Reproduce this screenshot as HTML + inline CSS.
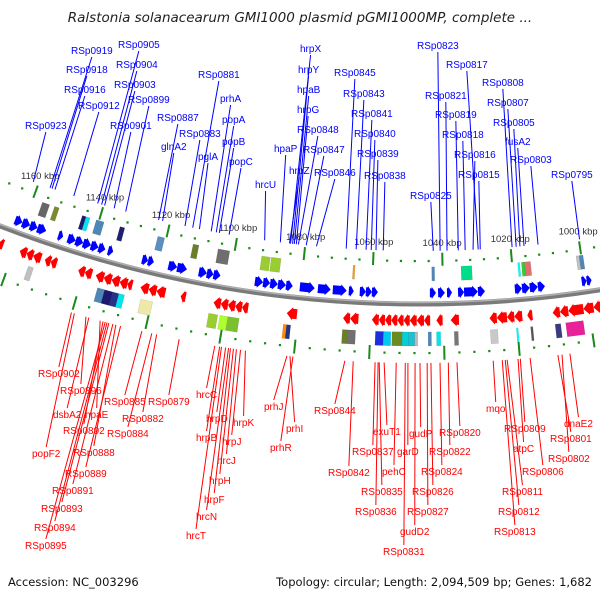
<!DOCTYPE html>
<html><head><meta charset="utf-8">
<style>
html,body{margin:0;padding:0;background:#fff;}
svg{display:block;font-family:"Liberation Sans",sans-serif;}
</style></head>
<body>
<svg id="map" width="600" height="600" viewBox="0 0 600 600" xmlns="http://www.w3.org/2000/svg">
<text x="300" y="22" text-anchor="middle" font-size="13.5" font-style="italic" fill="#222" style="font-family:'DejaVu Sans',sans-serif">Ralstonia solanacearum GMI1000 plasmid pGMI1000MP, complete ...</text>
<g id="ticks"></g>
<g id="backbone"></g>
<g id="genes"></g>
<g id="labels"></g>
<text x="8" y="586" font-size="11.5" fill="#111" style="font-family:'DejaVu Sans',sans-serif">Accession: NC_003296</text>
<text x="592" y="586" text-anchor="end" font-size="11.5" fill="#111" style="font-family:'DejaVu Sans',sans-serif">Topology: circular; Length: 2,094,509 bp; Genes: 1,682</text>
</svg>
<script>
// ---- data (kbp) ----
const kbpTicks = [1160,1140,1120,1100,1080,1060,1040,1020,1000];
const fwdGenes = [[1162.7,1160.5],[1160.5,1158.2],[1158.2,1156.0],[1156.0,1153.4],[1149.8,1148.4],[1147.0,1144.7],[1144.7,1142.5],[1142.5,1140.2],[1140.2,1138.0],[1138.0,1136.0],[1135.2,1133.7],[1125.3,1123.6],[1123.6,1121.9],[1117.7,1115.2],[1115.2,1112.4],[1109.0,1106.7],[1106.7,1104.8],[1104.8,1102.8],[1093.0,1090.7],[1090.7,1088.7],[1088.7,1086.5],[1086.5,1084.2],[1084.2,1082.3],[1080.3,1076.1],[1075.2,1071.6],[1071.0,1067.1],[1066.5,1065.1],[1063.4,1061.7],[1061.7,1060.0],[1060.0,1058.3],[1043.7,1042.0],[1041.4,1039.5],[1038.9,1037.5],[1035.8,1034.1],[1034.1,1030.2],[1030.2,1028.2],[1019.8,1017.8],[1017.8,1015.6],[1015.6,1013.3],[1013.3,1011.3],[1000.9,999.5],[999.5,998.1]];
const revGenes = [[1164.7,1163.3],[1158.5,1156.5],[1156.5,1154.6],[1154.6,1152.3],[1151.2,1149.5],[1149.5,1147.8],[1141.6,1139.7],[1139.7,1137.7],[1136.6,1134.3],[1134.3,1132.1],[1132.1,1129.8],[1129.8,1127.6],[1127.6,1126.2],[1123.9,1121.6],[1121.6,1119.4],[1119.4,1116.9],[1112.6,1111.2],[1103.4,1101.4],[1101.4,1099.4],[1099.4,1097.4],[1097.4,1095.5],[1095.5,1093.8],[1083.1,1080.3],[1067.6,1065.7],[1065.7,1063.4],[1059.7,1057.8],[1057.8,1056.1],[1056.1,1054.4],[1054.4,1052.7],[1052.7,1051.0],[1051.0,1049.3],[1049.3,1047.4],[1047.4,1045.4],[1045.4,1043.7],[1042.0,1040.3],[1038.1,1035.8],[1027.4,1025.4],[1025.4,1022.6],[1022.6,1020.6],[1020.6,1018.4],[1017.0,1015.6],[1010.0,1008.0],[1008.0,1005.7],[1005.7,1001.5],[1001.5,998.7],[998.7,995.9]];
const upperBoxes = [[1157.1,1154.9,"#666"],[1153.4,1152.0,"#7a8a30"],[1145.0,1143.9,"#1a1a70"],[1143.9,1142.7,"#00e5ee"],[1140.8,1138.5,"#4f86b8"],[1133.7,1132.3,"#202070"],[1122.5,1120.5,"#5a8fc0"],[1112.1,1110.4,"#6b7f2a"],[1104.8,1101.4,"#6e6e6e"],[1092.1,1089.6,"#9acd32"],[1089.3,1086.5,"#9acd32"],[1065.7,1065.1,"#f0a030"],[1043.1,1042.3,"#4f86b8"],[1034.7,1031.6,"#00dd88"],[1018.4,1017.8,"#00ffff"],[1017.3,1016.4,"#32cd32"],[1016.4,1014.7,"#e07070"],[1001.5,1000.6,"#c0c0c0"],[1000.6,999.5,"#4f86b8"]];
const lowerBoxes = [[1154.9,1153.4,"#c0c0c0"],[1135.2,1133.2,"#4f86b8"],[1133.2,1130.9,"#1a1a70"],[1130.9,1129.2,"#223388"],[1129.2,1127.6,"#00e5ee"],[1123.05,1119.7,"#eee8aa"],[1104.2,1101.7,"#9acd32"],[1101.1,1098.9,"#adff2f"],[1098.9,1095.8,"#7cc030"],[1083.7,1082.8,"#ff8c00"],[1082.8,1081.7,"#223388"],[1067.6,1066.2,"#6b7f2a"],[1066.2,1064.0,"#707070"],[1058.6,1056.4,"#1a30e0"],[1056.4,1054.4,"#00c8f0"],[1054.1,1051.3,"#6b8a20"],[1051.3,1049.6,"#00d0d8"],[1049.6,1047.9,"#20c0d0"],[1047.9,1047.1,"#bbbbbb"],[1044.3,1043.4,"#4f86b8"],[1042.0,1040.9,"#00e5ee"],[1037.2,1036.1,"#777"],[1027.4,1025.4,"#c8c8c8"],[1020.3,1019.8,"#00ffff"],[1016.4,1015.8,"#555"],[1009.7,1008.2,"#3a3a80"],[1006.8,1002.0,"#e8209a"]];
const blueNames = ["RSp0923","RSp0919","RSp0918","RSp0916","RSp0912","RSp0905","RSp0904","RSp0903","RSp0899","RSp0901","RSp0887","glnA2","RSp0883","RSp0881","pglA","prhA","popA","popB","popC","hrcU","hpaP","hrpX","hrpY","hpaB","hrpG","RSp0848","hrpZ","RSp0847","RSp0846","RSp0845","RSp0843","RSp0841","RSp0840","RSp0839","RSp0838","RSp0825","RSp0823","RSp0821","RSp0819","RSp0817","RSp0818","RSp0816","RSp0815","RSp0808","RSp0807","RSp0805","fusA2","RSp0803","RSp0795"];
const blueKbp = [1161.6,1156.4,1155.8,1154.9,1149.1,1141.8,1140.6,1139.7,1133.3,1136.8,1123.4,1122.2,1115.5,1113.2,1111.2,1107.7,1106.2,1105.3,1102.4,1091.9,1087.3,1084.3,1083.7,1083.2,1082.6,1082.0,1084.6,1079.7,1076.7,1068.0,1065.1,1062.2,1060.7,1059.3,1057.2,1042.6,1040.6,1038.6,1035.3,1029.5,1033.3,1031.0,1028.9,1019.6,1018.4,1017.3,1016.1,1012.0,999.8];
const blueLabelX = [25,71,66,64,78,118,116,114,128,110,157,161,179,198,198,220,222,222,229,255,274,300,298,297,297,297,289,303,314,334,343,351,354,357,364,410,417,425,435,446,442,454,458,482,487,493,505,510,551];
const blueLabelY = [129,54,73,93,109,48,68,88,103,129,121,150,137,78,160,102,123,145,165,188,152,52,73,93,113,133,174,153,176,76,97,117,137,157,179,199,49,99,118,68,138,158,178,86,106,126,145,163,178];
const redNames = ["RSp0902","RSp0896","dsbA2","hpaE","RSp0885","RSp0879","RSp0882","RSp0892","RSp0884","popF2","RSp0888","RSp0889","RSp0891","RSp0893","RSp0894","RSp0895","hrcC","hrpD","hrpK","hrpB","hrpJ","hrcJ","hrpH","hrpF","hrcN","hrcT","prhJ","prhI","prhR","RSp0844","RSp0842","exuT1","RSp0837","garD","gudP","RSp0820","RSp0822","pehC","RSp0824","RSp0835","RSp0826","RSp0836","RSp0827","gudD2","RSp0831","mqo","RSp0809","atpC","RSp0806","RSp0811","RSp0812","RSp0813","dnaE2","RSp0801","RSp0802"];
const redKbp = [1140.1,1136.1,1135.3,1132.2,1120.8,1110.7,1116.8,1131.4,1118.1,1139.3,1127.9,1126.6,1128.7,1129.8,1130.3,1130.8,1101.1,1098.2,1092.9,1099.8,1094.2,1095.3,1096.1,1096.9,1097.4,1099.3,1081.8,1081.0,1080.2,1066.4,1064.2,1056.0,1058.4,1049.7,1046.5,1036.7,1039.0,1052.8,1041.2,1057.3,1043.6,1057.6,1044.6,1047.8,1050.4,1027.1,1019.9,1020.5,1017.3,1023.4,1023.9,1024.7,1006.7,1009.9,1008.8];
const redLabelX = [38,60,53,85,104,148,122,63,107,32,73,65,52,41,34,25,196,206,233,196,222,217,209,204,196,186,264,286,270,314,328,373,352,397,409,439,429,382,421,361,412,355,407,400,383,486,504,513,522,502,498,494,564,550,548];
const redLabelY = [377,394,418,418,405,405,422,434,437,457,456,477,494,512,531,549,398,422,426,441,445,464,484,503,520,539,410,432,451,414,476,435,455,455,437,436,455,475,475,495,495,515,515,535,555,412,432,452,475,495,515,535,427,442,462];

// ---- geometry ----
const NS = "http://www.w3.org/2000/svg";
const CX = 419, CY = -859;
function theta(k){ return -0.0409 - (k - 1060) * 0.00309; }
function P(k, r){ const t = theta(k); return [CX + r*Math.sin(t), CY + r*Math.cos(t)]; }
function mk(tag, attrs, parent){ const e = document.createElementNS(NS, tag); for (const a in attrs) e.setAttribute(a, attrs[a]); parent.appendChild(e); return e; }
function poly(pts){ return pts.map(p => p[0].toFixed(1)+","+p[1].toFixed(1)).join(" "); }

const gT = document.getElementById("ticks"), gB = document.getElementById("backbone"),
      gG = document.getElementById("genes"), gL = document.getElementById("labels");

// tick rings
for (let k = 996; k <= 1168; k += 4) {
  const major = (k % 20 === 0);
  [[1120, 1112, 1125], [1212, 1205, 1219]].forEach(function (ring, i) {
    if (major) {
      const a = P(k, ring[1]), b = P(k, ring[2]);
      const l = mk("line", {x1:a[0], y1:a[1], x2:b[0], y2:b[1], stroke:"#1a8a1a", "stroke-width":2}, gT);
      
      
    } else {
      const a = P(k, ring[0]);
      const d = mk("rect", {x:a[0]-1, y:a[1]-1, width:2.2, height:2.2, fill:"#1a8a1a"}, gT);
      
      
    }
  });
}
kbpTicks.forEach(function (k) {
  const p = P(k, 1105);
  const t = mk("text", {x:p[0], y:p[1], "text-anchor":"middle", "font-size":"9.5", fill:"#333"}, gT);
  t.textContent = k + " kbp";
  
  
});

// backbone arc
(function () {
  const a = P(1175, 1163), b = P(990, 1163);
  const d = "M" + a[0] + "," + a[1] + " A1163,1163 0 0 0 " + b[0] + "," + b[1];
  const p1 = mk("path", {d:d, fill:"none", stroke:"#7a7a7a", "stroke-width":5}, gB);
  
  
  const a2 = P(1175, 1161.5), b2 = P(990, 1161.5);
  const p2 = mk("path", {d:"M" + a2[0] + "," + a2[1] + " A1161.5,1161.5 0 0 0 " + b2[0] + "," + b2[1], fill:"none", stroke:"#b0b0b0", "stroke-width":1.5}, gB);
  
  
})();

// genes
function arrow(a, b, r1, r2, color, name) {
  const head = Math.min(Math.abs(a - b) * 0.7, 1.6);
  const dir = b < a ? -1 : 1;
  const hb = b - dir * head;
  const rm = (r1 + r2) / 2, b1 = r1 + 1.5, b2 = r2 - 1.5;
  const pts = [P(a, b1), P(hb, b1), P(hb, r1), P(b, rm), P(hb, r2), P(hb, b2), P(a, b2)];
  const e = mk("polygon", {points:poly(pts), fill:color}, gG);
  
  
}
fwdGenes.forEach(function (g) { arrow(g[0], g[1], 1146, 1158, "#0000ff", "forward-gene"); });
revGenes.forEach(function (g) { arrow(g[1], g[0], 1173, 1186, "#ff0000", "reverse-gene"); });
function box(g, r1, r2, name) {
  const pts = [P(g[0], r1), P(g[1], r1), P(g[1], r2), P(g[0], r2)];
  const e = mk("polygon", {points:poly(pts), fill:g[2], stroke:"rgba(0,0,0,0.15)", "stroke-width":0.5}, gG);
  
  
}
upperBoxes.forEach(function (g) { box(g, 1126, 1140, "cog-box-forward"); });
lowerBoxes.forEach(function (g) { box(g, 1191, 1205, "cog-box-reverse"); });

// labels
function label(name, k, lx, ly, color, up) {
  const t = mk("text", {x:lx, y:ly, "font-size":"10", fill:color}, gL);
  t.textContent = name;
  
  
  const w = t.getComputedTextLength ? t.getComputedTextLength() : name.length * 6;
  const cx = lx + w / 2;
  let a, b;
  if (up) { a = [cx, ly + 3]; b = P(k, 1110); }
  else { a = P(k, 1222); b = [cx, ly - 10]; }
  const l = mk("line", {x1:a[0], y1:a[1], x2:b[0], y2:b[1], stroke:color, "stroke-width":1}, gL);
  
  
}
blueNames.forEach(function (n, i) { label(n, blueKbp[i], blueLabelX[i], blueLabelY[i], "#0000ff", true); });
redNames.forEach(function (n, i) { label(n, redKbp[i], redLabelX[i], redLabelY[i], "#ff0000", false); });
</script>
</body></html>
